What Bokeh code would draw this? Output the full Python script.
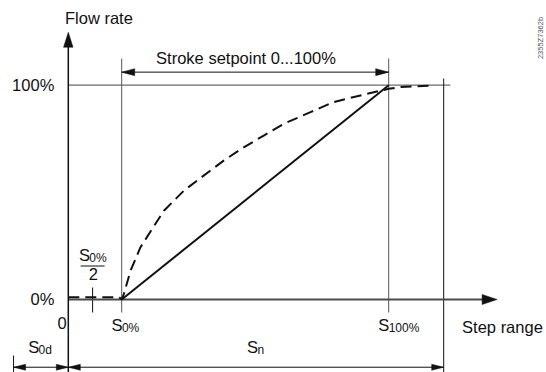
import math
from bokeh.plotting import figure
from bokeh.models import Range1d
from bokeh.embed import file_html
from bokeh.resources import INLINE
from bokeh.core.properties import value

# ---------------- data (x: step range units, y: flow rate in %) ----------------
s_0 = 20.0            # S0%  (stroke 0 %)
s_100 = 120.0         # S100% (stroke 100 %)
s_half = 9.1          # S0%/2 marker
s_n_end = 140.6       # end of Sn
s_0d_start = -20.5    # start of S0d
x_axis_end = 160.6
y_axis_end = 124.7
flow_levels = [0, 100]
flow_level_labels = ["0%", "100%"]

linear_x = [20, 120]
linear_y = [0, 100]

curve_x = [0, 19, 20, 20.8, 23.3, 27.0, 31.4, 35.8, 43.3, 50.7, 58.2, 65.7,
           73.2, 80.7, 90.7, 99.3, 111.9, 120, 124.4, 136.8]
curve_y = [1.1, 1.1, 0, 2.5, 13.4, 24.3, 32.9, 41.4, 50.8, 57.8, 64.8, 71.0,
           76.5, 82.0, 87.4, 92.1, 96.0, 98.3, 99.1, 99.9]

stroke_dim_y = 106.1
step_dim_y = -31.6

# ---------------- geometry of the canvas ----------------
W, H = 546, 372
PX, PY = 2.67, 2.143          # pixels per data unit
ORG_X, ORG_Y = 67.8, 299.0    # pixel position of data (0, 0) inside the canvas

FONT = value("Liberation Sans")
INK = "#111111"
BIG_UP = 6.8      # baseline correction (px) for 16.5px text
SMALL_UP = 5.0    # baseline correction (px) for 12px text


def dx(px):
    return px / PX


def dy(px):
    return px / PY


p = figure(width=W, height=H, output_backend="svg", toolbar_location=None,
           x_range=Range1d(-ORG_X / PX, (W - ORG_X) / PX),
           y_range=Range1d(-(H - ORG_Y) / PY, ORG_Y / PY),
           min_border=0, border_fill_color="white", background_fill_color="white")
p.axis.visible = False
p.grid.visible = False
p.outline_line_color = None

ybot = p.y_range.start


def head(xt, yt, ux, uy, length, width):
    # ux, uy: direction in screen-up coordinates
    bx, by = -ux * length, -uy * length
    qx, qy = -uy * width / 2, ux * width / 2
    xs = [xt, xt + dx(bx + qx), xt + dx(bx - qx)]
    ys = [yt, yt + dy(by + qy), yt + dy(by - qy)]
    return xs, ys


heads = [
    head(0, y_axis_end, 0, 1, 15, 9.5),
    head(x_axis_end, 0, 1, 0, 15, 10),
    head(s_0, stroke_dim_y, -1, 0, 13, 7),
    head(s_100, stroke_dim_y, 1, 0, 13, 7),
    head(s_0d_start, step_dim_y, -1, 0, 12, 6),
    head(0, step_dim_y, 1, 0, 12, 6),
    head(0, step_dim_y, -1, 0, 12, 6),
    head(s_n_end, step_dim_y, 1, 0, 12, 6),
]

# reference lines
p.segment(x0=[0], y0=[100], x1=[dx(382)], y1=[100], line_color="#6a6a6a", line_width=1.3)
p.segment(x0=[s_0, s_100], y0=[dy(241)] * 2, x1=[s_0, s_100], y1=[-dy(13)] * 2,
          line_color="#555555", line_width=1)
p.segment(x0=[s_n_end], y0=[dy(221)], x1=[s_n_end], y1=[ybot], line_color=INK, line_width=1)
p.segment(x0=[s_half], y0=[dy(12)], x1=[s_half], y1=[-dy(13)], line_color=INK, line_width=1)
p.segment(x0=[s_0d_start], y0=[-dy(56)], x1=[s_0d_start], y1=[ybot], line_color=INK, line_width=1)

# dimension lines
p.segment(x0=[s_0], y0=[stroke_dim_y], x1=[s_100], y1=[stroke_dim_y], line_color=INK, line_width=1)
p.segment(x0=[s_0d_start], y0=[step_dim_y], x1=[s_n_end], y1=[step_dim_y], line_color=INK, line_width=1)

# axes
p.segment(x0=[0], y0=[0], x1=[x_axis_end - dx(14)], y1=[0], line_color="#4a4a4a", line_width=2)
p.segment(x0=[0], y0=[ybot], x1=[0], y1=[y_axis_end - dy(14)], line_color=INK, line_width=1.5)

p.patches(xs=[h[0] for h in heads], ys=[h[1] for h in heads],
          fill_color=INK, line_color=INK, line_width=0.5)

# characteristic curves
p.line(curve_x, curve_y, line_color=INK, line_width=2, line_dash="11 6")
p.line(linear_x, linear_y, line_color=INK, line_width=2)

# ---------------- texts ----------------
big = dict(text_font=FONT, text_font_size="16.5px", text_color=INK)
small = dict(text_font=FONT, text_font_size="12px", text_color=INK)
B = dy(BIG_UP)
S = dy(SMALL_UP)

p.text(x=[dx(-3.3)], y=[dy(275) + B], text=["Flow rate"], text_align="left",
       text_baseline="alphabetic", **big)
p.text(x=[dx(-14)] * 2, y=[v - dy(6.5) + B for v in flow_levels], text=flow_level_labels,
       text_align="right", text_baseline="alphabetic", **big)
p.text(x=[dx(-1.5)], y=[-dy(30.3) + B], text=["0"], text_align="right",
       text_baseline="alphabetic", **big)
p.text(x=[(s_0 + s_100) / 2 - dx(9.2)], y=[stroke_dim_y + dy(7.5) + B],
       text=["Stroke setpoint 0...100%"], text_align="center", text_baseline="alphabetic", **big)
p.text(x=[x_axis_end - dx(35)], y=[-dy(34.2) + B], text=["Step range"], text_align="left",
       text_baseline="alphabetic", **big)

# subscripted labels: S + subscript
s_anchor = [s_0 + dx(0.8), s_100 + dx(0.6), s_half - dx(2.7),
            s_0d_start + dx(25.6), s_n_end / 2 + dx(2)]
s_base = [-dy(32.5), -dy(32.5), dy(37.3), step_dim_y + dy(13.4), step_dim_y + dy(13.4)]
sub_text = ["0%", "100%", "0%", "0d", "n"]
p.text(x=s_anchor, y=[b + B for b in s_base], text=["S"] * 5, text_align="right",
       text_baseline="alphabetic", **big)
p.text(x=[a - dx(0.6) for a in s_anchor], y=[b - dy(1) + S for b in s_base], text=sub_text,
       text_align="left", text_baseline="alphabetic", **small)

# fraction S0% / 2
p.segment(x0=[s_half - dx(12)], y0=[dy(33.5)], x1=[s_half + dx(12)], y1=[dy(33.5)],
          line_color=INK, line_width=1)
p.text(x=[s_half + dx(0.8)], y=[dy(19) + B], text=["2"], text_align="center",
       text_baseline="alphabetic", **big)

# drawing number
p.text(x=[dx(472.2)], y=[dy(261.5)], text=["2355Z7362b"], angle=math.pi / 2,
       text_align="center", text_baseline="middle", text_font=FONT,
       text_font_size="7.5px", text_color="#555555")

open("out.html", "w").write(file_html(p, INLINE))
